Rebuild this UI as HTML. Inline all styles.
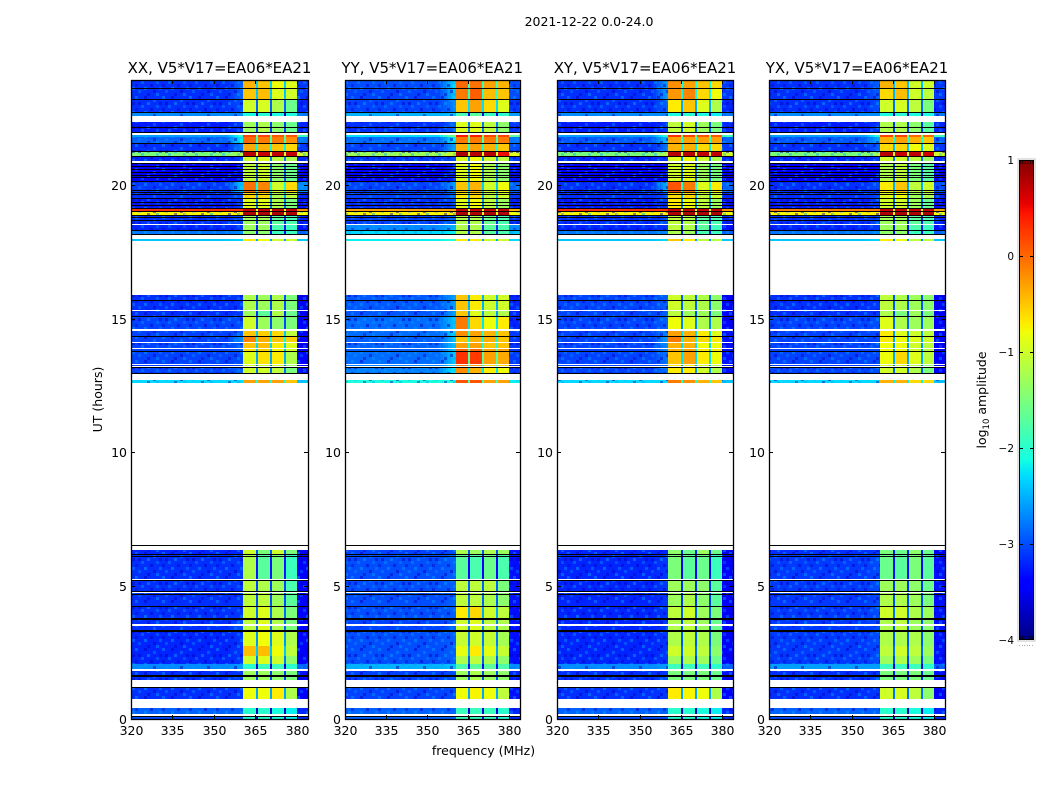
<!DOCTYPE html>
<html lang="en">
<head>
<meta charset="utf-8">
<title>2021-12-22 0.0-24.0</title>
<style>
html,body{margin:0;padding:0;background:#fff;}
#chart{display:block;width:1050px;height:800px;}
text{font-family:"DejaVu Sans","Liberation Sans",sans-serif;fill:#000;}
</style>
</head>
<body>
<svg id="chart" xmlns="http://www.w3.org/2000/svg" width="1050" height="800" viewBox="0 0 1050 800">
<defs>
<pattern id="speckle" patternUnits="userSpaceOnUse" width="27" height="24">
<rect x="0" y="0" width="3" height="3" fill="#00a0ff" opacity=".45"/>
<rect x="9" y="0" width="3" height="3" fill="#0000c0" opacity=".5"/>
<rect x="18" y="3" width="3" height="3" fill="#00a0ff" opacity=".4"/>
<rect x="3" y="6" width="3" height="3" fill="#0000c0" opacity=".5"/>
<rect x="12" y="6" width="3" height="3" fill="#00a0ff" opacity=".5"/>
<rect x="24" y="6" width="3" height="3" fill="#0000c0" opacity=".45"/>
<rect x="6" y="9" width="3" height="3" fill="#00a0ff" opacity=".4"/>
<rect x="21" y="9" width="3" height="3" fill="#00a0ff" opacity=".35"/>
<rect x="15" y="12" width="3" height="3" fill="#0000c0" opacity=".5"/>
<rect x="0" y="12" width="3" height="3" fill="#0000c0" opacity=".4"/>
<rect x="9" y="15" width="3" height="3" fill="#00a0ff" opacity=".5"/>
<rect x="24" y="15" width="3" height="3" fill="#00a0ff" opacity=".4"/>
<rect x="3" y="18" width="3" height="3" fill="#00a0ff" opacity=".35"/>
<rect x="18" y="18" width="3" height="3" fill="#0000c0" opacity=".5"/>
<rect x="12" y="21" width="3" height="3" fill="#0000c0" opacity=".45"/>
<rect x="21" y="21" width="3" height="3" fill="#00a0ff" opacity=".45"/>
</pattern>
</defs>
</svg>
<script>
/* Time segments (UT hours) — white gaps are simply hours with no segment */
const segmentStartHours = [24,23.7,23.29,22.81,22.44,21.95,21.86,21.61,21.31,21.16,20.9,20.18,19.81,19.58,19.17,19.09,18.94,18.56,18.38,18.02,
15.94,15.34,15.11,14.59,14.36,14.14,13.91,13.8,13.31,13.2,12.74,
6.36,6.18,5.2,4.75,4.54,4.34,4.22,3.77,3.51,3.25,2.75,2.37,2.05,1.82,1.6,1.2,0.43,0.09];
const segmentEndHours = [23.7,23.29,22.81,22.64,22.02,21.87,21.61,21.31,21.16,20.97,20.18,19.81,19.58,19.17,19.09,18.94,18.6,18.38,18.19,17.96,
15.36,15.15,14.63,14.4,14.16,13.95,13.84,13.35,13.24,12.94,12.62,
6.2,5.24,4.79,4.56,4.37,4.26,3.81,3.55,3.36,2.75,2.37,2.08,1.86,1.67,1.48,0.75,0.17,0];

/* Flagged integrations shown as black rows (UT hours) */
const flaggedHours = [23.71,23.3,22.81,22.25,22.06,21.63,21.33,21.16,20.9,20.78,20.67,20.56,20.45,20.34,20.22,19.88,19.79,19.7,19.55,19.43,19.32,19.21,19.09,18.94,18.85,18.76,18.38,18.23,
15.73,15.13,14.38,13.82,13.22,13.01,
6.53,6.2,6.14,5.22,4.79,4.68,4.24,3.8,3.75,3.36,3.32,1.67,1.6,1.22,0.13];

/* log10 amplitude per segment: [320-355, 355-360.5, sub-band 1, sub-band 2, sub-band 3, sub-band 4, 380-384 MHz] */
const levelsXX = [
[-3.15,-2.9,-.4,-.5,-.8,-.9,-3.1],[-3.15,-2.9,-.5,-.45,-.9,-1,-3.1],[-3.15,-3,-1,-.95,-1.2,-1.6,-3.2],[-2.7,-2.7,-2.1,-2,-2.1,-2.1,-2.8],
[-3.25,-3.1,-1.3,-1.2,-1.4,-1.6,-3.2],[-2.6,-2,.2,.2,.1,.1,-1.9],[-2.9,-2.2,0,-.1,-.1,-.2,-2.8],[-3.15,-2.8,-.35,-.4,-.5,-.6,-3.1],
[-1.5,-1.2,.75,.7,.7,.7,-1],[-3.2,-3.1,-1,-.9,-1.1,-1.2,-3.2],[-3.45,-3.3,-1.1,-1,-1.4,-1.6,-3.4],[-3.1,-2.4,-.05,-.15,-1,-.6,-2.7],
[-3.15,-3,-.6,-.6,-1.2,-1.1,-3.2],[-3.25,-3.1,-.9,-.9,-1.2,-1.5,-3.3],[.3,.3,.7,.7,.7,.7,-.2],[-.75,-.7,.8,.8,.8,.8,-.8],
[-3.15,-3,-1.3,-1.3,-1.7,-1.8,-3.2],[-3.2,-3.1,-1.3,-1.3,-1.8,-1.9,-3.3],[-2.8,-2.7,-1.4,-1.4,-1.9,-1.9,-2.9],[-2.4,-2.3,-.7,-.8,-1,-1,-2.4],
[-3.15,-3.1,-1.2,-1.3,-1.2,-1.5,-3.5],[-3.15,-3.1,-1.3,-1.7,-1.2,-1.6,-3.5],[-3.05,-3,-1,-1.3,-1.4,-1.5,-3.4],[-3.05,-2.9,-.5,-.55,-.6,-1.1,-3.4],
[-3.05,-2.7,-.15,-.4,-.5,-.55,-3.4],[-3.05,-2.9,-.5,-.45,-.7,-.9,-3.4],[-3.05,-2.9,-.65,-.55,-.75,-1,-3.4],[-3.05,-3,-.9,-.65,-.7,-1.2,-3.4],
[-3.1,-3,-1,-1,-1,-1.4,-3.5],[-3.05,-2.9,-1,-1,-1.1,-1.5,-3.3],[-2.3,-2.3,-.3,-.3,-.3,-.5,-2.4],
[-3.2,-3.2,-1,-1.5,-1,-1.5,-3.5],[-3.15,-3.1,-1.2,-1.7,-1.5,-1.9,-3.4],[-3.15,-3.1,-1.1,-1.2,-1.3,-1.8,-3.4],[-3.15,-3.1,-1.1,-1.1,-1.3,-1.7,-3.4],
[-3.15,-3.1,-1.1,-1.1,-1.3,-1.7,-3.4],[-3.15,-3.1,-1.1,-1.1,-1.3,-1.7,-3.4],[-3.15,-3.1,-1,-.9,-1.2,-1.5,-3.4],[-3.15,-3,-1.1,-.9,-1.2,-1.5,-3.4],
[-3.15,-3,-1.1,-.9,-1.2,-1.5,-3.4],[-3.2,-3.1,-.9,-.8,-.9,-1.2,-3.4],[-3.2,-3.1,-.45,-.45,-.8,-1.1,-3.4],[-3.2,-3.1,-1,-.9,-1,-1.4,-3.4],
[-2.7,-2.6,-2,-1.9,-1.9,-2,-2.9],[-3.15,-3.1,-1.3,-1.3,-1.4,-1.5,-3.3],[-3.15,-3,-1.3,-1.3,-1.4,-1.5,-3.4],[-3.15,-3.1,-.8,-.8,-.7,-1.2,-3.4],
[-2.9,-2.9,-2,-2,-2.1,-2.2,-3.2],[-3,-3,-2,-2,-2.1,-2.2,-3.2]];
const levelsYY = [
[-3,-2.3,0,-.05,-.3,-.4,-3],[-3.05,-2.4,-.1,.05,-.45,-.5,-3],[-3.05,-2.7,-.5,-.3,-.6,-.9,-3.1],[-2.5,-2.4,-1.8,-1.7,-1.9,-2,-2.6],
[-3.15,-2.9,-.9,-.9,-1.1,-1.4,-3.1],[-2.3,-1.5,.4,.4,.2,.2,-1.7],[-2.85,-2.2,-.1,-.1,-.1,-.1,-2.8],[-3.05,-2.6,-.4,-.3,-.4,-.5,-3],
[-1.3,-1,.8,.75,.75,.5,-.9],[-3.1,-3,-.9,-.8,-1,-1.1,-3.1],[-3.35,-3.2,-.9,-.8,-1.2,-1.4,-3.3],[-3.05,-2.6,-.5,-.4,-1,-.8,-2.9],
[-3.05,-2.9,-.7,-.6,-1.1,-1,-3.1],[-3.15,-3,-.9,-.8,-1.1,-1.3,-3.2],[-.3,-.3,.7,.7,.7,.7,-.4],[-.75,-.7,.8,.8,.8,.8,-.8],
[-3.05,-2.9,-1.2,-1.2,-1.6,-1.8,-3.1],[-2.7,-2.5,-1.2,-1.2,-1.7,-1.8,-2.7],[-2.3,-2.2,-1.2,-1.2,-1.7,-1.8,-2.4],[-2.2,-2,-.7,-.7,-1,-1,-2.3],
[-2.95,-2.6,-.5,-.7,-1,-1,-3.2],[-2.95,-2.6,-.5,-.9,-1.1,-1.2,-3.2],[-2.85,-2.4,-.1,-.6,-.8,-.7,-3.2],[-2.85,-2.3,-.2,-.3,-.4,-.5,-3.1],
[-2.9,-2.4,-.5,-.4,-.4,-.5,-3.1],[-2.9,-2.4,-.3,-.3,-.5,-.5,-3.1],[-2.9,-2.4,0,0,-.3,-.3,-3.1],[-2.85,-2.4,.3,.25,-.3,-.35,-3.1],
[-2.75,-2.3,-.1,-.3,-.6,-.6,-3.2],[-2.75,-2.2,-.2,-.4,-.7,-.8,-3.1],[-2.1,-2.1,.1,.1,-.3,-.3,-2.2],
[-3.05,-3,-1.2,-1.3,-1.2,-1.3,-3.3],[-3,-2.9,-1.7,-1.8,-1.6,-1.8,-3.3],[-3,-2.9,-1.1,-1.1,-1.1,-1.5,-3.3],[-3,-2.9,-1.1,-1.1,-1.2,-1.4,-3.3],
[-3,-2.9,-1.1,-1.1,-1.2,-1.4,-3.3],[-3,-2.9,-1.1,-1.1,-1.2,-1.4,-3.3],[-3,-2.9,-.7,-.6,-1,-1.1,-3.3],[-3.05,-2.9,-1,-.9,-1.1,-1.2,-3.3],
[-3.05,-2.9,-1,-.9,-1.1,-1.2,-3.3],[-3,-2.9,-1.05,-1,-1.05,-1.25,-3.3],[-3,-2.9,-.85,-.7,-.85,-1.05,-3.3],[-3,-2.9,-1.2,-1.1,-1.2,-1.4,-3.3],
[-2.5,-2.4,-1.8,-1.7,-1.7,-1.8,-2.7],[-3.05,-3,-1.3,-1.2,-1.3,-1.4,-3.2],[-3.05,-3,-1.3,-1.2,-1.3,-1.4,-3.2],[-3.05,-3,-.8,-.75,-.8,-1.1,-3.3],
[-2.9,-2.9,-1.9,-1.9,-1.9,-2,-3.2],[-2.9,-2.9,-1.9,-1.9,-1.9,-2,-3.2]];
const levelsXY = [
[-3.15,-2.6,-.2,-.3,-.5,-.6,-3.1],[-3.15,-2.6,-.25,-.15,-.6,-.8,-3.1],[-3.15,-2.9,-.7,-.5,-.9,-1.2,-3.2],[-2.7,-2.7,-2.1,-2,-2.1,-2.2,-2.8],
[-3.25,-3.1,-1.1,-1,-1.3,-1.5,-3.2],[-2.6,-2,.3,.2,.1,.1,-1.9],[-2.95,-2.4,-.3,-.3,-.3,-.3,-2.9],[-3.15,-2.8,-.4,-.4,-.6,-.6,-3.1],
[-1.5,-1.2,.75,.75,.7,.7,-1],[-3.2,-3.1,-.9,-.8,-1,-1.2,-3.2],[-3.45,-3.3,-1,-.9,-1.3,-1.5,-3.4],[-3.15,-2.5,.1,-.1,-.9,-.7,-2.9],
[-3.15,-3,-.6,-.6,-1.1,-1,-3.2],[-3.25,-3.1,-.7,-.8,-1.1,-1.3,-3.3],[.3,.3,.7,.7,.7,.7,-.2],[-.75,-.7,.8,.8,.8,.8,-.8],
[-3.15,-3,-1.1,-1.2,-1.7,-1.8,-3.2],[-3.2,-3.1,-1.1,-1.2,-1.7,-1.9,-3.3],[-2.8,-2.7,-1.2,-1.3,-1.8,-1.9,-2.9],[-2.4,-2.3,-.5,-.7,-1.1,-1.1,-2.4],
[-3.05,-2.9,-1,-1.1,-1.2,-1.4,-3.4],[-3.05,-2.9,-1.1,-1.3,-1.3,-1.5,-3.4],[-3.05,-2.9,-.8,-.9,-1.2,-1.2,-3.4],[-3.05,-2.7,-.3,-.4,-.7,-.9,-3.3],
[-3.05,-2.6,-.1,-.4,-.6,-.7,-3.3],[-3.05,-2.7,-.4,-.4,-.8,-.8,-3.3],[-3.05,-2.7,-.4,-.3,-.7,-.7,-3.3],[-3.05,-2.8,-.5,-.3,-.7,-.8,-3.3],
[-3.05,-2.9,-.7,-.7,-1,-1.1,-3.4],[-3.05,-2.8,-.7,-.7,-1,-1.2,-3.3],[-2.3,-2.3,-.1,-.2,-.4,-.5,-2.4],
[-3.2,-3.2,-1.4,-1.6,-1.3,-1.6,-3.5],[-3.2,-3.1,-1.5,-1.7,-1.6,-1.9,-3.4],[-3.2,-3.1,-1.3,-1.3,-1.4,-1.7,-3.4],[-3.2,-3.1,-1.3,-1.2,-1.4,-1.7,-3.4],
[-3.2,-3.1,-1.3,-1.2,-1.4,-1.7,-3.4],[-3.2,-3.1,-1.3,-1.2,-1.4,-1.7,-3.4],[-3.2,-3.1,-1.1,-1,-1.3,-1.5,-3.4],[-3.2,-3.1,-1.2,-1.1,-1.3,-1.6,-3.4],
[-3.2,-3.1,-1.2,-1.1,-1.3,-1.6,-3.4],[-3.2,-3.1,-1.2,-1.1,-1.2,-1.5,-3.4],[-3.2,-3.1,-1,-1,-1.1,-1.4,-3.4],[-3.2,-3.1,-1.3,-1.2,-1.3,-1.6,-3.4],
[-2.7,-2.6,-1.9,-1.9,-1.9,-2,-2.9],[-3.15,-3.1,-1.5,-1.5,-1.5,-1.6,-3.3],[-3.15,-3,-1.5,-1.5,-1.5,-1.6,-3.4],[-3.15,-3.1,-.7,-.75,-.8,-1.2,-3.4],
[-2.9,-2.9,-2,-2,-2.1,-2.2,-3.2],[-3,-3,-2,-2,-2.1,-2.2,-3.2]];
const levelsYX = [
[-3.15,-2.9,-.4,-.5,-1,-1,-3.1],[-3.15,-2.9,-.6,-.45,-1,-1.1,-3.1],[-3.15,-3,-1,-.95,-1.1,-1.5,-3.2],[-2.7,-2.7,-2.1,-2,-2.1,-2.1,-2.8],
[-3.25,-3.1,-1.2,-1.2,-1.4,-1.7,-3.2],[-2.6,-2,.2,.2,0,0,-1.9],[-2.95,-2.5,-.4,-.3,-.4,-.5,-2.9],[-3.15,-2.9,-.6,-.6,-.8,-.9,-3.1],
[-1.5,-1.2,.75,.7,.7,.65,-1],[-3.2,-3.1,-1,-1,-1.1,-1.3,-3.2],[-3.45,-3.3,-1.2,-1.1,-1.5,-1.7,-3.4],[-3.15,-3,-.7,-.5,-1.1,-1,-3],
[-3.15,-3,-.9,-.8,-1.3,-1.2,-3.2],[-3.25,-3.1,-1,-1,-1.3,-1.6,-3.3],[-.1,-.1,.7,.7,.7,.7,-.3],[-.75,-.7,.8,.8,.8,.8,-.8],
[-3.15,-3,-1.3,-1.3,-1.7,-1.8,-3.2],[-3.2,-3.1,-1.3,-1.3,-1.8,-1.9,-3.3],[-2.8,-2.7,-1.4,-1.4,-1.9,-1.9,-2.9],[-2.4,-2.3,-.7,-.8,-1.1,-1.1,-2.4],
[-3.15,-3.1,-1.1,-1.2,-1.3,-1.4,-3.4],[-3.15,-3.1,-1.2,-1.5,-1.3,-1.5,-3.4],[-3.05,-3,-.9,-1.2,-1.3,-1.3,-3.4],[-3.05,-3,-.7,-.9,-1,-1.1,-3.4],
[-3.05,-3,-.7,-.8,-.9,-1,-3.4],[-3.05,-3,-.8,-.8,-1,-1.1,-3.4],[-3.05,-3,-.8,-.8,-1,-1.1,-3.4],[-3.05,-3,-.8,-.6,-.9,-1.1,-3.4],
[-3.1,-3,-1,-1,-1.2,-1.4,-3.4],[-3.05,-3,-1,-1,-1.2,-1.5,-3.4],[-2.3,-2.3,-.4,-.4,-.6,-.6,-2.4],
[-3.15,-3.1,-1.5,-1.6,-1.4,-1.6,-3.4],[-3.1,-3,-1.6,-1.7,-1.5,-1.7,-3.3],[-3.1,-3,-1.3,-1.3,-1.4,-1.6,-3.3],[-3.1,-3,-1.2,-1.2,-1.3,-1.5,-3.3],
[-3.1,-3,-1.2,-1.2,-1.3,-1.5,-3.3],[-3.1,-3,-1.2,-1.2,-1.3,-1.5,-3.3],[-3.1,-3,-1,-1,-1.2,-1.3,-3.3],[-3.1,-3,-1.2,-1.1,-1.3,-1.4,-3.3],
[-3.1,-3,-1.2,-1.1,-1.3,-1.4,-3.3],[-3.1,-3,-1.2,-1.2,-1.2,-1.4,-3.3],[-3.1,-3,-1.1,-1,-1.1,-1.3,-3.3],[-3.1,-3,-1.3,-1.2,-1.3,-1.5,-3.3],
[-2.6,-2.6,-1.9,-1.9,-1.9,-2,-2.9],[-3.15,-3.1,-1.5,-1.5,-1.5,-1.6,-3.3],[-3.15,-3,-1.5,-1.5,-1.5,-1.6,-3.3],[-3.15,-3.1,-1,-.95,-1.1,-1.4,-3.4],
[-2.9,-2.9,-2,-2,-2.1,-2.2,-3.2],[-3,-3,-2,-2,-2.1,-2.2,-3.2]];

const panelLevels = [levelsXX, levelsYY, levelsXY, levelsYX];
const panelTitles = ["XX, V5*V17=EA06*EA21", "YY, V5*V17=EA06*EA21", "XY, V5*V17=EA06*EA21", "YX, V5*V17=EA06*EA21"];
const panelCodes = ["xx", "yy", "xy", "yx"];

/* Frequency channel edges (MHz) and the dropouts between the sub-bands */
const channelStartMHz = [320, 355, 360.5, 365.8, 370.9, 376.1, 380];
const channelEndMHz = [355, 360.5, 365.1, 370.2, 375.4, 380, 384];
const dropoutStartMHz = [365.1, 370.2, 375.4];
const dropoutEndMHz = [365.8, 370.9, 376.1];

const xTickValues = [320, 335, 350, 365, 380];
const yTickValues = [0, 5, 10, 15, 20];
const colorbarTickValues = [1, 0, -1, -2, -3, -4];
const colorbarTickLabels = ["1", "0", "\u22121", "\u22122", "\u22123", "\u22124"];

/* Layout */
const NS = "http://www.w3.org/2000/svg";
const svg = document.getElementById("chart");
const frames = [[131, 308], [344.5, 520], [557, 733], [769, 945]];
const plotTop = 80, plotBottom = 719;
const freqMin = 320, freqMax = 384, hourMax = 24;
const vmin = -4, vmax = 1;
const tickPixelsPerHour = 26.7;
const shoulderSteps = 6;

function add(parent, tag, attrs) {
  const el = document.createElementNS(NS, tag);
  for (const k in attrs) el.setAttribute(k, attrs[k]);
  parent.appendChild(el);
  return el;
}
function interp(t, pts) {
  if (t <= pts[0][0]) return pts[0][1];
  for (let i = 1; i < pts.length; i++) {
    if (t <= pts[i][0]) {
      const a = pts[i - 1], b = pts[i];
      return a[1] + (b[1] - a[1]) * (t - a[0]) / (b[0] - a[0]);
    }
  }
  return pts[pts.length - 1][1];
}
function jet(v) {
  const t = Math.max(0, Math.min(1, (v - vmin) / (vmax - vmin)));
  const r = interp(t, [[0, 0], [.35, 0], [.66, 1], [.89, 1], [1, .5]]);
  const g = interp(t, [[0, 0], [.125, 0], [.375, 1], [.64, 1], [.91, 0], [1, 0]]);
  const b = interp(t, [[0, .5], [.11, 1], [.34, 1], [.65, 0], [1, 0]]);
  return "rgb(" + Math.round(r * 255) + "," + Math.round(g * 255) + "," + Math.round(b * 255) + ")";
}
function yScale(h) { return plotBottom - h * (plotBottom - plotTop) / hourMax; }
function yTickScale(h) { return plotBottom - h * tickPixelsPerHour; }
function xScale(f, frame) { return frame[0] + (f - freqMin) * (frame[1] - frame[0]) / (freqMax - freqMin); }
function snapRect(parent, x0, x1, y0, y1, fill) {
  const X0 = Math.round(x0), X1 = Math.round(x1), Y0 = Math.round(y0), Y1 = Math.round(y1);
  return add(parent, "rect", {x: X0, y: Y0, width: Math.max(1, X1 - X0), height: Math.max(1, Y1 - Y0), fill: fill, "shape-rendering": "crispEdges"});
}
function addText(parent, x, y, str, size, anchor, name) {
  const t = add(parent, "text", {x: x, y: y, "font-size": size, "text-anchor": anchor});
  t.textContent = str;
  
  
  return t;
}

/* Figure-level labels */
addText(svg, 589, 26, "2021-12-22 0.0-24.0", 12.5, "middle", "figure-title");
addText(svg, 483.5, 755, "frequency (MHz)", 12.5, "middle", "x-axis-title");
const yTitle = addText(svg, 0, 0, "UT (hours)", 12.5, "middle", "y-axis-title");
yTitle.setAttribute("transform", "translate(102,399.5) rotate(-90)");

/* Panels */
frames.forEach(function (frame, p) {
  const g = add(svg, "g", {});
  
  
  const levels = panelLevels[p];

  segmentStartHours.forEach(function (startHour, i) {
    const y0 = yScale(startHour), y1 = yScale(segmentEndHours[i]);
    const row = levels[i];
    channelStartMHz.forEach(function (f0, c) {
      if (c === 1) {
        /* the shoulder ramps smoothly from the low-band level to its own level */
        const f1 = channelEndMHz[c];
        for (let s = 0; s < shoulderSteps; s++) {
          const fa = f0 + (f1 - f0) * s / shoulderSteps;
          const fb = f0 + (f1 - f0) * (s + 1) / shoulderSteps;
          const ramp = row[0] + (row[1] - row[0]) * (s + 1) / shoulderSteps;
          const step = snapRect(g, xScale(fa, frame), xScale(fb, frame), y0, y1, jet(ramp));
          
          
        }
        return;
      }
      const cell = snapRect(g, xScale(f0, frame), xScale(channelEndMHz[c], frame), y0, y1, jet(row[c]));
      
      
    });
    const subBandMean = (row[2] + row[3] + row[4] + row[5]) / 4;
    dropoutStartMHz.forEach(function (f0, d) {
      const dropout = snapRect(g, xScale(f0, frame), xScale(dropoutEndMHz[d], frame), y0, y1, jet(subBandMean - 1.7));
      
      
    });
    if (y1 - y0 > 3) {
      const low = snapRect(g, xScale(channelStartMHz[0], frame), xScale(channelEndMHz[1], frame), y0, y1, "url(#speckle)");
      
      
      const high = snapRect(g, xScale(channelStartMHz[6], frame), xScale(channelEndMHz[6], frame), y0, y1, "url(#speckle)");
      
      
    }
  });

  flaggedHours.forEach(function (h) {
    const y = yScale(h);
    const line = snapRect(g, frame[0], frame[1], y, y + 1, "#000");
    
    
  });

  const border = add(g, "rect", {x: Math.round(frame[0]) + .5, y: plotTop + .5, width: Math.round(frame[1]) - Math.round(frame[0]), height: plotBottom - plotTop, fill: "none", stroke: "#000", "stroke-width": 1.3});
  
  

  xTickValues.forEach(function (v) {
    const x = Math.round(xScale(v, frame)) + .5;
    const tickBottom = add(g, "line", {x1: x, x2: x, y1: plotBottom, y2: plotBottom - 4, stroke: "#000"});
    
    
    const tickTop = add(g, "line", {x1: x, x2: x, y1: plotTop, y2: plotTop + 4, stroke: "#000"});
    
    
    addText(g, x, 735, String(v), 12.5, "middle", "x-tick-label");
  });
  yTickValues.forEach(function (v) {
    const y = Math.round(yTickScale(v)) + .5;
    const L = Math.round(frame[0]), R = Math.round(frame[1]);
    const tickLeft = add(g, "line", {x1: L, x2: L + 4, y1: y, y2: y, stroke: "#000"});
    
    
    const tickRight = add(g, "line", {x1: R, x2: R - 4, y1: y, y2: y, stroke: "#000"});
    
    
    addText(g, L - 4, y + 4.5, String(v), 12.5, "end", "y-tick-label");
  });
  addText(g, (frame[0] + frame[1]) / 2, 73, panelTitles[p], 14.95, "middle", "panel-title");
});

/* Colorbar */
const cbLeft = 1019, cbRight = 1034, cbTop = 160, cbBottom = 640;
function cbY(v) { return cbBottom - (v - vmin) * (cbBottom - cbTop) / (vmax - vmin); }
const cb = add(svg, "g", {});


const halo = add(cb, "rect", {x: cbLeft - 1, y: cbTop - 1, width: cbRight - cbLeft + 2, height: cbBottom - cbTop + 2, fill: "none", stroke: "#c4c4c4", "stroke-width": 1});


for (let y = cbTop; y < cbBottom; y += 2) {
  const v = vmin + (cbBottom - y - 1) * (vmax - vmin) / (cbBottom - cbTop);
  const swatch = add(cb, "rect", {x: cbLeft, y: y, width: cbRight - cbLeft, height: 2, fill: jet(v), "shape-rendering": "crispEdges"});
  
  
}
const cbBorder = add(cb, "rect", {x: cbLeft + .5, y: cbTop + .5, width: cbRight - cbLeft - 1, height: cbBottom - cbTop - 1, fill: "none", stroke: "#000", "stroke-width": 1});


colorbarTickValues.forEach(function (v, i) {
  const y = Math.min(cbBottom - 1, Math.round(cbY(v))) + .5;
  const left = add(cb, "line", {x1: cbLeft, x2: cbLeft + 4, y1: y, y2: y, stroke: "#000"});
  
  
  const right = add(cb, "line", {x1: cbRight, x2: cbRight - 4, y1: y, y2: y, stroke: "#000"});
  
  
  addText(cb, cbLeft - 5, Math.round(cbY(v)) + 4, colorbarTickLabels[i], 10.5, "end", "colorbar-tick-label");
});
[1, 2, 3, 4, 5, 6].forEach(function (k) {
  const x = cbLeft + (k - 0.5) * (cbRight - cbLeft) / 6;
  const topTick = add(cb, "line", {x1: x, x2: x, y1: cbTop, y2: cbTop + 4, stroke: "#000", "stroke-width": .7});
  
  
  const bottomTick = add(cb, "line", {x1: x, x2: x, y1: cbBottom, y2: cbBottom - 4, stroke: "#000", "stroke-width": .7});
  
  
  const dot = add(cb, "rect", {x: Math.round(x) - 1, y: 645, width: 1, height: 1, fill: "#b0b0b0"});
  
  
});
const cbLabel = add(cb, "text", {"font-size": 12.5, "text-anchor": "middle", transform: "translate(986,400) rotate(-90)"});


cbLabel.appendChild(document.createTextNode("log"));
const cbSub = add(cbLabel, "tspan", {"font-size": 8.5, dy: 3});
cbSub.textContent = "10";
const cbRest = add(cbLabel, "tspan", {dy: -3});
cbRest.textContent = " amplitude";
</script>
</body>
</html>
